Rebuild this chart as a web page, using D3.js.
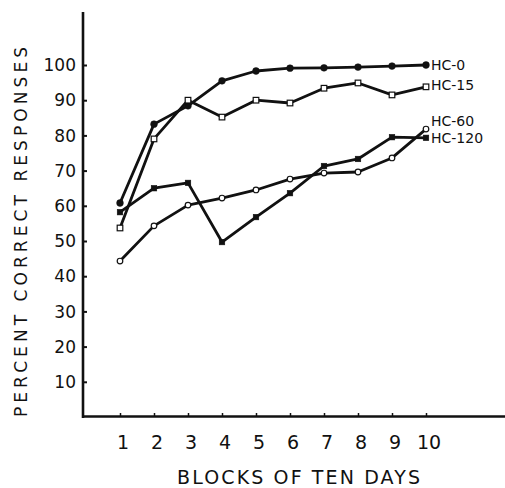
<!DOCTYPE html>
<html lang="en">
<head>
  <meta charset="UTF-8" />
  <title>Percent correct responses by block</title>
  <style>
    body {
      margin: 0;
      background-color: #fff;
    }

    svg {
      display: block;
      font-family: "DejaVu Sans", sans-serif;
    }

    .series {
      fill: none;
      stroke: #111;
      stroke-width: 2.8px;
      stroke-linejoin: round;
    }

    .axis-line {
      stroke: #111;
      stroke-width: 2.6px;
    }
  </style>
</head>
<body>
  <svg width="505" height="488"></svg>

  <script src="https://d3js.org/d3.v7.min.js"></script>
  <script>
    // Data
    const blocks = [1, 2, 3, 4, 5, 6, 7, 8, 9, 10];
    const yTicks = [10, 20, 30, 40, 50, 60, 70, 80, 90, 100];
    const hc0   = [60.8, 83.2, 88.4, 95.5, 98.3, 99.1, 99.2, 99.4, 99.7, 100];
    const hc15  = [53.7, 79.0, 90.0, 85.2, 90.0, 89.2, 93.4, 94.9, 91.5, 93.8];
    const hc60  = [44.3, 54.3, 60.2, 62.2, 64.5, 67.6, 69.3, 69.6, 73.6, 81.8];
    const hc120 = [58.2, 65.0, 66.5, 49.7, 56.8, 63.6, 71.3, 73.3, 79.5, 79.3];
    const seriesNames = ["HC-0", "HC-15", "HC-60", "HC-120"];

    const svg = d3.select("svg");

    const x = d3.scaleLinear().domain([1, 10]).range([120, 426]);
    const y = d3.scaleLinear().domain([0, 100]).range([417, 65]);

    // axes
    svg.append("line").attr("class", "axis-line")
      .attr("x1", 83).attr("x2", 83).attr("y1", 12).attr("y2", y(0) + 1);
    svg.append("line").attr("class", "axis-line")
      .attr("x1", 82).attr("x2", 505).attr("y1", y(0) - 0.5).attr("y2", y(0) - 0.5);

    const yAxis = svg.append("g")
      .attr("transform", "translate(83,0)")
      .call(d3.axisRight(y).tickValues(yTicks).tickSize(4).tickFormat(""));
    yAxis.select(".domain").remove();
    yAxis.selectAll(".tick line").attr("stroke", "#111").attr("stroke-width", 2);

    svg.append("g").selectAll("text")
      .data(yTicks)
      .join("text")
      .attr("x", 76)
      .attr("y", d => y(d))
      .attr("dy", "0.36em")
      .attr("text-anchor", "end")
      .attr("font-size", 17)
      .attr("fill", "#111")
      .text(d => d);

    const xAxis = svg.append("g")
      .attr("transform", `translate(0,${y(0) - 1})`)
      .call(d3.axisTop(x).tickValues(blocks).tickSize(3).tickFormat(""));
    xAxis.select(".domain").remove();
    xAxis.selectAll(".tick line").attr("stroke", "#111").attr("stroke-width", 1.5);

    svg.append("g").selectAll("text")
      .data(blocks)
      .join("text")
      .attr("x", d => x(d) + 3)
      .attr("y", 449)
      .attr("text-anchor", "middle")
      .attr("font-size", 19)
      .attr("fill", "#111")
      .text(d => d);

    // titles
    svg.append("text")
      .attr("x", 177)
      .attr("y", 484)
      .attr("font-size", 19)
      .attr("textLength", 243)
      .attr("lengthAdjust", "spacing")
      .attr("fill", "#111")
      .text("BLOCKS OF TEN DAYS");

    svg.append("text")
      .attr("transform", "translate(27,417) rotate(-90)")
      .attr("font-size", 17)
      .attr("textLength", 370)
      .attr("lengthAdjust", "spacing")
      .attr("fill", "#111")
      .text("PERCENT CORRECT RESPONSES");

    // series
    const line = d3.line()
      .x((d, i) => x(blocks[i]))
      .y(d => y(d));

    const allSeries = [hc0, hc15, hc60, hc120];
    const markers = ["dot", "openSquare", "openDot", "square"];
    const labelNudge = [0, -2, -8, 0];

    allSeries.forEach((vals, s) => {
      svg.append("path").attr("class", "series").attr("d", line(vals));

      const isSquare = markers[s].includes("quare");
      const open = markers[s].startsWith("open");
      const pts = svg.append("g").selectAll(".pt")
        .data(vals)
        .join(isSquare ? "rect" : "circle");

      if (isSquare) {
        pts.attr("x", (d, i) => x(blocks[i]) - 2.8)
          .attr("y", d => y(d) - 2.8)
          .attr("width", 5.6).attr("height", 5.6);
      } else {
        pts.attr("cx", (d, i) => x(blocks[i]))
          .attr("cy", d => y(d))
          .attr("r", open ? 2.8 : 3.4);
      }
      pts.attr("fill", open ? "#fff" : "#111")
        .attr("stroke", "#111")
        .attr("stroke-width", open ? 1.2 : 0.5);

      svg.append("text")
        .attr("x", x(10) + 5)
        .attr("y", y(vals[vals.length - 1]) + labelNudge[s])
        .attr("dy", "0.36em")
        .attr("font-size", 14)
        .attr("fill", "#111")
        .text(seriesNames[s]);
    });
  </script>
</body>
</html>
